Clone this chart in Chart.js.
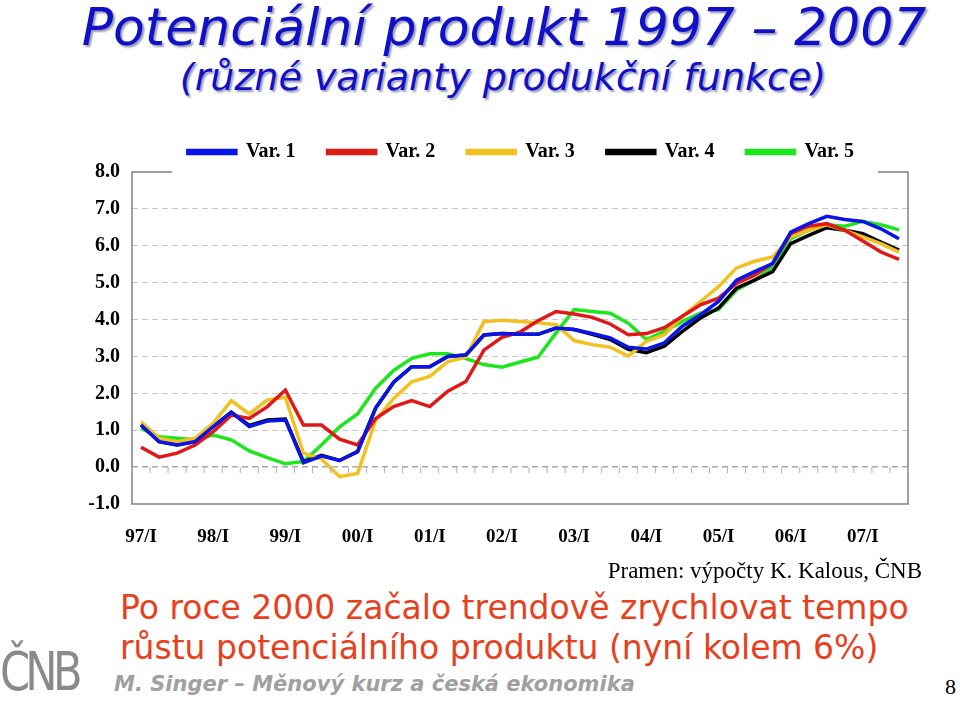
<!DOCTYPE html>
<html>
<head>
<meta charset="utf-8">
<script src="https://cdn.jsdelivr.net/npm/chart.js@4"></script>
<style>
  body { margin: 0; width: 960px; height: 702px; background: #fff; position: relative; overflow: hidden; }
  .t { position: absolute; white-space: nowrap; }
  #title { left: 0; width: 1008px; text-align: center; top: -3px; font: italic 52px "DejaVu Sans", sans-serif; color: #1010c8; text-shadow: 2px 2px 2px #9a9ab8; }
  #sub { left: 0; width: 1006px; text-align: center; top: 55px; font: italic 38px "DejaVu Sans", sans-serif; color: #1010c8; text-shadow: 2px 2px 2px #9a9ab8; }
  #src { right: 38px; top: 558px; font: 23px "Liberation Serif", serif; color: #000; }
  #note { left: 120px; top: 588px; font: 33px "DejaVu Sans", sans-serif; color: #e8401c; line-height: 40px; }
  #foot { left: 114px; top: 672px; font: italic bold 21px "DejaVu Sans", sans-serif; color: #a0a0a0; }
  #logo { left: 0; top: 640px; font: 54px "DejaVu Sans", sans-serif; color: #8a8a8a; letter-spacing: -6px; transform: scaleX(0.8); transform-origin: left; }
  #page { right: 4px; top: 674px; font: 22px "Liberation Serif", serif; }
  #wrap { position: absolute; left: 0; top: 102px; width: 960px; height: 459px; }
</style>
</head>
<body>
<div class="t" id="title">Potenciální produkt 1997 – 2007</div>
<div class="t" id="sub">(různé varianty produkční funkce)</div>
<div id="wrap"><canvas id="c"></canvas></div>
<div class="t" id="src">Pramen: výpočty K. Kalous, ČNB</div>
<div class="t" id="note">Po roce 2000 začalo trendově zrychlovat tempo<br>růstu potenciálního produktu (nyní kolem 6%)</div>
<div class="t" id="logo">ČNB</div>
<div class="t" id="foot">M. Singer – Měnový kurz a česká ekonomika</div>
<div class="t" id="page">8</div>
<script>
const years = ['97', '98', '99', '00', '01', '02', '03', '04', '05', '06', '07'];
const quarters = ['I', 'II', 'III', 'IV'];
const categories = [];
years.forEach(y => quarters.forEach(q => categories.push(y + '/' + q)));
categories.length = 43;

const var1 = [1.14, 0.69, 0.6, 0.69, 1.1, 1.49, 1.1, 1.25, 1.28, 0.12, 0.3, 0.18, 0.42, 1.6, 2.3, 2.72, 2.72, 3.0, 3.04, 3.58, 3.62, 3.6,
  3.6, 3.77, 3.73, 3.62, 3.5, 3.25, 3.2, 3.37, 3.82, 4.13, 4.49, 5.07, 5.3, 5.52, 6.37, 6.6, 6.8, 6.71, 6.66, 6.46, 6.19];
const var2 = [0.54, 0.27, 0.38, 0.6, 0.96, 1.41, 1.32, 1.64, 2.09, 1.14, 1.14, 0.76, 0.6, 1.32, 1.64, 1.8, 1.64, 2.06, 2.32, 3.17, 3.52, 3.66,
  3.97, 4.22, 4.15, 4.06, 3.88, 3.59, 3.62, 3.78, 4.09, 4.4, 4.58, 4.98, 5.2, 5.52, 6.33, 6.53, 6.6, 6.42, 6.13, 5.83, 5.63];
const var3 = [1.23, 0.78, 0.69, 0.78, 1.19, 1.8, 1.44, 1.82, 1.89, 0.38, 0.22, -0.26, -0.17, 1.27, 1.86, 2.31, 2.46, 2.86, 2.98, 3.94, 3.98, 3.95,
  3.91, 3.86, 3.43, 3.32, 3.25, 3.01, 3.41, 3.59, 4.09, 4.49, 4.89, 5.4, 5.58, 5.7, 6.24, 6.42, 6.57, 6.42, 6.24, 6.06, 5.83];
const var4 = [1.14, 0.69, 0.6, 0.69, 1.1, 1.49, 1.13, 1.28, 1.3, 0.15, 0.32, 0.18, 0.42, 1.6, 2.3, 2.72, 2.72, 3.0, 3.04, 3.58, 3.62, 3.6,
  3.6, 3.77, 3.73, 3.6, 3.46, 3.19, 3.1, 3.28, 3.68, 4.04, 4.31, 4.85, 5.07, 5.3, 6.06, 6.28, 6.49, 6.42, 6.33, 6.1, 5.88];
const var5 = [1.05, 0.82, 0.78, 0.74, 0.87, 0.74, 0.44, 0.26, 0.09, 0.15, 0.6, 1.09, 1.44, 2.14, 2.62, 2.95, 3.07, 3.07, 2.94, 2.78, 2.71, 2.85,
  2.98, 3.64, 4.27, 4.22, 4.17, 3.9, 3.46, 3.68, 3.95, 4.17, 4.27, 4.8, 5.07, 5.43, 6.19, 6.42, 6.57, 6.53, 6.66, 6.57, 6.43];
const seriesNames = ['Var. 1', 'Var. 2', 'Var. 3', 'Var. 4', 'Var. 5'];
const seriesColors = ['#0a14e6', '#e01818', '#f2c020', '#000000', '#1ee61e'];
const yTicks = [-1, 0, 1, 2, 3, 4, 5, 6, 7, 8];

// rámeček grafu: horní hrana jen u rohů, jako v originálu
const frame = {
  id: 'frame',
  afterLayout(chart) {
    // legenda je v originálu posunutá doprava
    chart.legend.left += 67;
    chart.legend.right += 67;
  },
  afterDraw(chart) {
    const { ctx, chartArea: a } = chart;
    ctx.save();
    ctx.strokeStyle = '#808080';
    ctx.lineWidth = 1.5;
    ctx.beginPath();
    ctx.moveTo(a.left + 40, a.top); ctx.lineTo(a.left, a.top); ctx.lineTo(a.left, a.bottom);
    ctx.lineTo(a.right, a.bottom); ctx.lineTo(a.right, a.top); ctx.lineTo(a.right - 30, a.top);
    ctx.stroke();
    // malé značky kvartálů na nulové ose
    const y0 = chart.scales.y.getPixelForValue(0);
    const step = chart.scales.x.getPixelForValue(1) - chart.scales.x.getPixelForValue(0);
    ctx.strokeStyle = '#b0b0b0';
    ctx.lineWidth = 1;
    for (let i = 0; i <= categories.length; i++) {
      const x = chart.scales.x.getPixelForValue(i) - step / 2;
      ctx.beginPath(); ctx.moveTo(x, y0); ctx.lineTo(x, y0 + 6); ctx.stroke();
    }
    ctx.restore();
  }
};

new Chart(document.getElementById('c'), {
  type: 'line',
  data: {
    labels: categories,
    datasets: [var1, var2, var3, var4, var5].map((d, i) => ({
      label: seriesNames[i], data: d, borderColor: seriesColors[i], backgroundColor: seriesColors[i],
      borderWidth: 3.5, pointRadius: 0, tension: 0
    }))
  },
  options: {
    responsive: true, maintainAspectRatio: false, animation: false,
    layout: { padding: { right: 52, top: 8, left: 0 } },
    plugins: {
      tooltip: { enabled: false },
      legend: {
        labels: { boxWidth: 48, boxHeight: 3, padding: 32, color: '#000', font: { family: 'Liberation Serif', size: 20, weight: 'bold' } }
      }
    },
    scales: {
      x: {
        offset: true,
        grid: { display: false }, border: { display: false },
        afterFit(s) { s.height = 57; },
        ticks: {
          autoSkip: false, maxRotation: 0, padding: 14, color: '#000',
          font: { family: 'Liberation Serif', size: 19, weight: 'bold' },
          callback(v, i) { return i % 4 === 0 ? categories[i] : ''; }
        }
      },
      y: {
        min: -1, max: 8,
        afterFit(s) { s.width = 132; },
        afterBuildTicks(s) { s.ticks = yTicks.map(v => ({ value: v })); },
        border: { display: false, dash: [6, 4] },
        grid: {
          drawTicks: false,
          color: c => (c.tick.value === 0 ? '#a8a8a8' : (c.tick.value === 8 || c.tick.value === -1 ? 'rgba(0,0,0,0)' : '#c8c8c8')),
          lineWidth: c => (c.tick.value === 0 ? 1.5 : 1)
        },
        ticks: {
          padding: 12, color: '#000',
          font: { family: 'Liberation Serif', size: 20, weight: 'bold' },
          callback: v => v.toFixed(1)
        }
      }
    }
  },
  plugins: [frame]
});
</script>
</body>
</html>
